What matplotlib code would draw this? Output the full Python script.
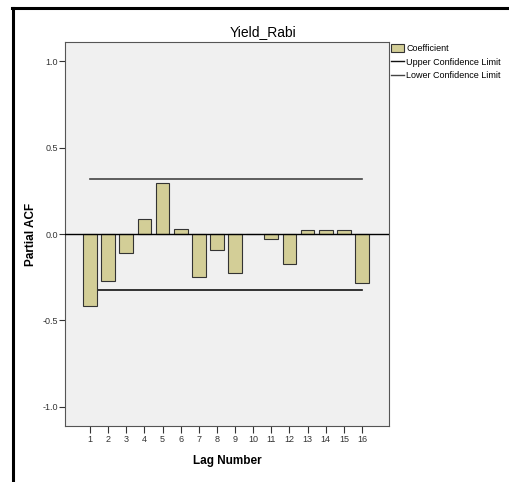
import matplotlib
matplotlib.use("Agg")
import matplotlib.pyplot as plt
from matplotlib.patches import Patch
from matplotlib.lines import Line2D

lags = list(range(1, 17))
pacf = [-0.415, -0.270, -0.112, 0.085, 0.298, 0.029, -0.251, -0.095,
        -0.228, 0.002, -0.031, -0.174, 0.023, 0.025, 0.021, -0.282]
upper_limit = 0.320
lower_limit = -0.322
yticks = [1.0, 0.5, 0.0, -0.5, -1.0]
ytick_labels = ["1.0", "0.5", "0.0", "-0.5", "-1.0"]

plt.rcParams['font.family'] = ['Liberation Sans', 'DejaVu Sans']

fig = plt.figure(figsize=(5.09, 4.82), dpi=100)
ax = fig.add_axes([65/509, 1-426/482, (389-65)/509, (426-42)/482])
ax.set_facecolor('#F0F0F0')

ax.bar(lags, pacf, width=0.76, color='#D3CE97', edgecolor='#333333', linewidth=0.8, zorder=3)
ax.axhline(0, color='black', linewidth=1.0, zorder=4)
ax.plot([lags[0], lags[-1]], [upper_limit, upper_limit], color='#444444', linewidth=1.2, zorder=2)
ax.plot([lags[0], lags[-1]], [lower_limit, lower_limit], color='#111111', linewidth=1.2, zorder=2)

ax.set_xlim(-0.38, 17.49)
ax.set_ylim(-1.113, 1.113)
ax.set_xticks(lags)
ax.set_xticklabels([str(l) for l in lags], fontsize=6.5, color='#333333')
ax.set_yticks(yticks)
ax.set_yticklabels(ytick_labels, fontsize=6.5, color='#333333')
ax.tick_params(axis='x', direction='out', length=5, width=0.8, pad=1.5, colors='#333333')
ax.tick_params(axis='y', direction='out', length=4, width=0.8, pad=1, colors='#333333')
for s in ax.spines.values():
    s.set_color('#555555')
    s.set_linewidth(0.8)

fig.text(263/509, 1-32/482, 'Yield_Rabi', fontsize=10, ha='center', va='center')
ax.set_xlabel('Lag Number', fontsize=8.5, fontweight='bold', labelpad=8)
ax.set_ylabel('Partial ACF', fontsize=8.5, fontweight='bold', labelpad=4)

handles = [Patch(facecolor='#D3CE97', edgecolor='#333333', linewidth=0.8),
           Line2D([0], [0], color='#111111', linewidth=1.0),
           Line2D([0], [0], color='#444444', linewidth=1.0)]
labels = ['Coefficient', 'Upper Confidence Limit', 'Lower Confidence Limit']
ax.legend(handles, labels, loc='upper left', bbox_to_anchor=(1.0, 1.0), frameon=False,
          fontsize=6.5, handlelength=1.4, handleheight=0.9, handletextpad=0.25,
          labelspacing=0.5, borderaxespad=0.15, borderpad=0.1)

# figure border lines (left and top)
fig.add_artist(Line2D([13/509, 13/509], [0, 1-8/482], color='black', linewidth=2.2, transform=fig.transFigure))
fig.add_artist(Line2D([12/509, 1], [1-8/482, 1-8/482], color='black', linewidth=2.2, transform=fig.transFigure))

fig.savefig('out.png', dpi=100)
